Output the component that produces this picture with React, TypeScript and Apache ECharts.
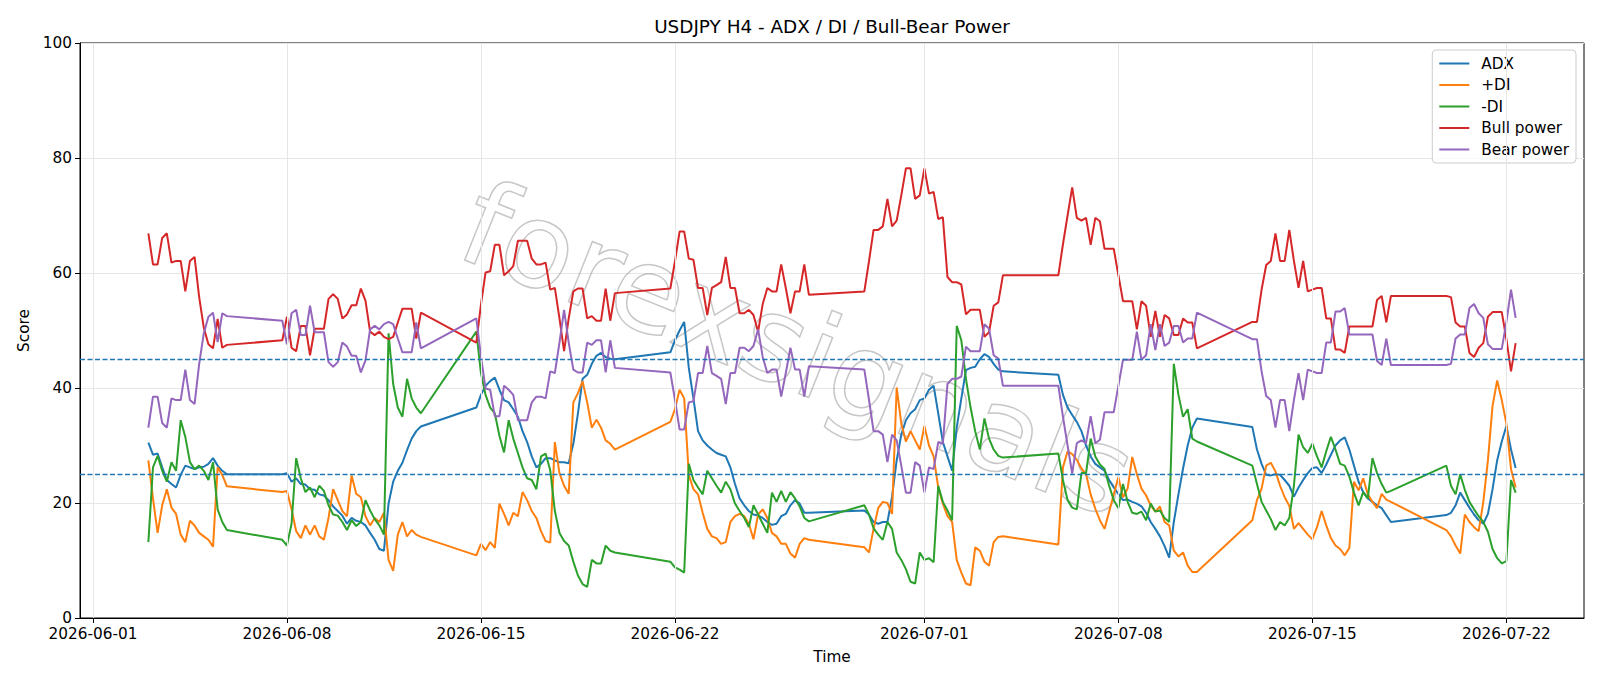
import React, { useEffect, useRef } from "react";
import * as echarts from "echarts";

// Trading sessions of H4 bars (UTC), weekends are skipped
const sessions: [string, string][] = [
  ["2026-06-03T00:00:00Z", "2026-06-05T20:00:00Z"],
  ["2026-06-07T20:00:00Z", "2026-06-12T20:00:00Z"],
  ["2026-06-14T20:00:00Z", "2026-06-19T20:00:00Z"],
  ["2026-06-21T20:00:00Z", "2026-06-26T20:00:00Z"],
  ["2026-06-28T20:00:00Z", "2026-07-03T20:00:00Z"],
  ["2026-07-05T20:00:00Z", "2026-07-10T20:00:00Z"],
  ["2026-07-12T20:00:00Z", "2026-07-17T20:00:00Z"],
  ["2026-07-19T20:00:00Z", "2026-07-22T08:00:00Z"],
];

const adx = [
  30.5, 28.4, 28.6, 26.2, 24.0, 23.3, 22.7, 24.9, 26.5, 26.2, 25.9, 26.2, 26.3, 26.8, 27.8, 26.5, 25.6, 25.0,
  25.0, 25.2, 23.7, 24.3, 23.3, 23.2, 22.4, 22.3, 21.5, 21.3, 20.5, 19.4, 18.6, 17.8, 16.4, 17.4, 16.9, 16.7, 16.1, 14.8, 13.6, 12.0, 11.7, 19.9, 23.7, 25.6, 27.0, 29.2, 31.2, 32.5, 33.3,
  36.6, 38.8, 40.4, 41.2, 41.8, 39.7, 37.9, 37.5, 36.3, 35.0, 32.5, 30.6, 28.1, 26.2, 26.8, 27.8, 27.8, 27.4, 27.1, 27.1, 26.9, 30.3, 35.6, 41.6, 42.3, 44.2, 45.6, 46.1, 45.4, 45.1, 45.0,
  46.2, 48.3, 50.0, 51.5, 43.5, 38.2, 32.5, 30.9, 30.0, 29.3, 28.7, 28.4, 28.1, 26.2, 23.3, 20.8, 19.6, 18.6, 18.0, 17.8, 17.4, 16.7, 16.2, 16.4, 17.7, 18.1, 19.6, 20.5, 19.9, 18.3, 18.3,
  18.7, 18.0, 16.7, 16.4, 16.7, 16.7, 21.1, 27.4, 31.9, 34.4, 35.6, 36.3, 37.9, 38.2, 39.7, 40.4, 35.6, 30.6, 28.1, 25.6, 33.1, 38.2, 43.1, 43.5, 43.7, 45.0, 45.9, 45.4, 44.2, 43.2, 42.9,
  42.3, 38.8, 36.6, 35.3, 34.1, 32.5, 30.0, 28.1, 26.8, 26.2, 25.6, 24.0, 22.7, 21.6, 20.5, 20.6, 20.2, 19.9, 19.4, 18.3, 16.7, 15.5, 14.2, 12.5, 10.5, 16.7, 21.5, 26.0, 30.0, 33.1, 34.7,
  33.2, 29.3, 26.8, 24.9, 24.8, 25.0, 24.9, 24.0, 23.0, 21.1, 22.7, 24.0, 25.2, 26.1, 26.2, 25.2, 26.7, 28.4, 30.0, 30.9, 31.4, 29.3, 26.5, 23.7, 21.9, 20.8, 20.2, 19.6, 19.1, 17.9, 16.7,
  17.9, 18.3, 19.6, 21.8, 20.5, 19.2, 18.0, 17.0, 16.4, 18.1, 22.4, 27.4, 30.7, 33.4, 29.3, 26.1,
];

const plusDI = [
  27.4, 20.8, 14.8, 19.6, 22.4, 19.2, 18.1, 14.5, 13.2, 16.9, 16.1, 14.8, 14.2, 13.6, 12.4, 26.2, 24.9, 22.9,
  21.9, 22.1, 18.9, 15.1, 13.9, 16.1, 14.5, 16.1, 14.2, 13.6, 17.4, 22.4, 20.5, 18.6, 17.7, 24.8, 21.6, 21.0, 17.7, 16.1, 17.4, 16.7, 18.3, 10.1, 8.2, 14.5, 16.7, 14.2, 15.3, 14.5, 14.1,
  10.9, 12.9, 11.8, 13.2, 12.2, 19.9, 18.1, 16.1, 18.3, 17.7, 21.9, 20.5, 18.6, 17.4, 15.1, 13.4, 13.1, 30.6, 25.2, 23.0, 21.6, 37.5, 39.1, 41.2, 37.5, 33.1, 34.5, 33.1, 30.9, 30.3, 29.3,
  34.1, 36.3, 39.7, 38.2, 24.9, 22.4, 21.5, 18.3, 15.5, 14.2, 13.9, 12.9, 13.2, 16.7, 17.7, 18.1, 17.7, 16.4, 13.7, 18.0, 18.9, 17.4, 14.8, 14.2, 12.9, 12.9, 11.2, 10.5, 12.9, 13.9, 13.6,
  12.3, 11.4, 15.5, 19.1, 20.2, 20.0, 18.1, 40.1, 33.8, 30.7, 32.5, 30.9, 29.3, 33.4, 30.0, 28.1, 22.7, 19.9, 17.7, 16.7, 10.1, 7.9, 6.0, 5.7, 12.3, 11.7, 9.8, 9.1, 13.2, 14.1, 14.2,
  12.8, 26.2, 29.0, 28.5, 27.5, 26.0, 25.0, 21.5, 19.0, 17.0, 15.5, 18.5, 21.5, 24.5, 21.0, 22.5, 28.0, 25.0, 22.5, 21.3, 19.6, 18.5, 19.4, 16.7, 16.1, 11.7, 10.7, 11.4, 9.1, 8.0, 8.0,
  17.0, 20.5, 22.5, 26.5, 27.0, 25.5, 23.0, 21.0, 19.5, 15.5, 16.5, 15.5, 14.5, 13.7, 15.8, 18.6, 16.1, 13.9, 12.6, 12.0, 10.9, 12.2, 23.7, 22.2, 24.3, 21.5, 20.2, 19.1, 21.6, 20.6, 20.2,
  15.3, 14.2, 12.6, 11.2, 18.0, 16.7, 15.8, 15.1, 20.2, 27.4, 36.9, 41.3, 37.9, 33.8, 25.9, 22.7,
];

const minusDI = [
  13.2, 26.2, 28.2, 25.6, 23.7, 27.1, 25.6, 34.4, 31.5, 27.1, 25.9, 26.5, 25.6, 24.0, 27.1, 18.9, 16.7, 15.3,
  13.6, 12.6, 16.4, 27.8, 24.3, 21.9, 22.7, 21.0, 23.0, 22.1, 19.6, 18.0, 17.8, 16.7, 15.3, 17.0, 16.0, 16.7, 20.5, 18.7, 17.2, 16.1, 14.5, 49.5, 40.7, 36.6, 35.0, 41.6, 38.2, 36.6, 35.6,
  49.8, 42.6, 38.8, 36.6, 35.6, 31.7, 28.8, 34.4, 31.2, 28.7, 26.2, 24.3, 24.0, 22.4, 28.1, 28.6, 25.7, 18.6, 14.8, 13.4, 12.6, 9.8, 7.4, 5.9, 5.4, 10.1, 9.5, 9.5, 12.6, 11.7, 11.4,
  9.8, 8.8, 8.4, 7.9, 26.8, 24.0, 22.7, 21.5, 25.6, 24.3, 23.0, 21.8, 23.7, 22.4, 19.9, 18.6, 17.4, 15.8, 19.6, 18.0, 16.4, 14.8, 21.8, 20.2, 22.1, 20.2, 21.9, 20.8, 19.4, 17.4, 16.8,
  19.6, 18.0, 15.6, 14.5, 13.6, 16.7, 15.5, 11.4, 10.1, 8.5, 6.3, 6.0, 11.4, 10.1, 10.4, 9.7, 23.0, 20.2, 18.7, 17.0, 50.8, 48.3, 41.6, 36.6, 32.5, 29.3, 34.7, 31.2, 29.3, 28.2, 27.9,
  28.6, 24.0, 20.5, 19.2, 18.9, 25.2, 25.2, 31.2, 28.1, 26.7, 25.9, 23.0, 20.5, 19.1, 23.3, 20.2, 18.3, 18.1, 18.5, 17.0, 19.9, 18.5, 18.7, 17.4, 16.7, 44.2, 38.8, 35.0, 36.3, 31.2, 30.7,
  26.5, 23.3, 20.2, 18.7, 17.2, 15.3, 16.7, 16.1, 17.4, 23.0, 31.9, 29.7, 28.7, 30.3, 28.1, 26.2, 29.0, 31.5, 29.3, 26.8, 26.5, 24.6, 21.8, 19.6, 21.9, 20.8, 27.8, 25.2, 23.3, 21.8, 22.1,
  26.5, 23.0, 21.5, 25.0, 22.3, 20.2, 18.9, 17.7, 16.7, 15.0, 12.0, 10.4, 9.5, 9.9, 24.0, 21.8,
];

const bullPower = [
  66.9, 61.5, 61.5, 66.1, 66.9, 61.8, 62.1, 62.1, 56.8, 62.1, 62.8, 55.8, 50.5, 47.6, 46.9, 52.0, 47.0, 47.5,
  48.3, 52.4, 47.0, 46.4, 50.8, 50.8, 45.7, 50.3, 50.3, 50.3, 55.5, 56.3, 55.5, 52.1, 52.8, 54.4, 54.4, 57.3, 55.2, 49.8, 49.2, 49.8, 48.9, 48.5, 48.9, 51.4, 53.8, 53.8, 53.8, 48.6, 53.1,
  47.9, 54.5, 60.1, 60.3, 64.9, 64.9, 59.6, 60.3, 61.2, 65.6, 65.6, 65.6, 62.5, 61.5, 61.5, 61.8, 57.1, 57.4, 52.1, 46.4, 52.1, 56.8, 57.3, 57.3, 52.1, 52.5, 51.7, 51.7, 57.3, 51.7, 56.5,
  57.3, 62.0, 67.2, 67.2, 62.5, 62.3, 57.4, 57.4, 52.7, 57.4, 57.9, 58.4, 62.8, 57.4, 57.4, 53.0, 53.0, 53.6, 52.7, 49.8, 54.6, 57.4, 56.8, 56.8, 61.5, 57.4, 53.0, 56.8, 56.8, 61.5, 56.2,
  56.8, 62.0, 67.5, 67.5, 68.1, 72.9, 68.1, 69.1, 73.5, 78.2, 78.2, 72.9, 73.5, 78.2, 73.8, 74.1, 69.4, 69.7, 59.3, 58.4, 58.4, 58.0, 52.8, 53.6, 53.6, 53.6, 48.9, 49.7, 54.3, 54.9, 59.6,
  59.6, 65.0, 70.0, 74.9, 69.6, 69.1, 69.6, 64.9, 69.6, 69.0, 64.2, 64.2, 64.2, 59.6, 55.1, 55.1, 55.1, 50.2, 55.1, 54.3, 48.9, 53.4, 48.9, 52.7, 52.1, 49.2, 49.2, 52.1, 51.4, 51.4, 46.9,
  51.5, 51.5, 57.1, 61.4, 62.1, 66.9, 62.1, 62.1, 67.5, 62.1, 57.4, 62.1, 56.8, 57.1, 57.4, 57.4, 52.1, 52.1, 46.7, 46.7, 46.1, 50.7, 50.7, 50.7, 50.7, 50.7, 50.7, 55.3, 56.0, 51.4, 56.0,
  56.0, 55.8, 51.4, 50.7, 50.7, 46.1, 45.4, 47.0, 47.8, 52.4, 53.2, 53.2, 53.2, 48.5, 42.9, 47.8,
];

const bearPower = [
  33.1, 38.5, 38.5, 33.9, 33.1, 38.2, 37.9, 37.9, 43.2, 37.9, 37.2, 44.2, 49.5, 52.4, 53.1, 48.0, 53.0, 52.5,
  51.7, 47.6, 53.0, 53.6, 49.2, 49.2, 54.3, 49.7, 49.7, 49.7, 44.5, 43.7, 44.5, 47.9, 47.2, 45.6, 45.6, 42.7, 44.8, 50.2, 50.8, 50.2, 51.1, 51.5, 51.1, 48.6, 46.2, 46.2, 46.2, 51.4, 46.9,
  52.1, 45.5, 39.9, 39.7, 35.1, 35.1, 40.4, 39.7, 38.8, 34.4, 34.4, 34.4, 37.5, 38.5, 38.5, 38.2, 42.9, 42.6, 47.9, 53.6, 47.9, 43.2, 42.7, 42.7, 47.9, 47.5, 48.3, 48.3, 42.7, 48.3, 43.5,
  42.7, 38.0, 32.8, 32.8, 37.5, 37.7, 42.6, 42.6, 47.3, 42.6, 42.1, 41.6, 37.2, 42.6, 42.6, 47.0, 47.0, 46.4, 47.3, 50.2, 45.4, 42.6, 43.2, 43.2, 38.5, 42.6, 47.0, 43.2, 43.2, 38.5, 43.8,
  43.2, 38.0, 32.5, 32.5, 31.9, 27.1, 31.9, 30.9, 26.5, 21.8, 21.8, 27.1, 26.5, 21.8, 26.2, 25.9, 30.6, 30.3, 40.7, 41.6, 41.6, 42.0, 47.2, 46.4, 46.4, 46.4, 51.1, 50.3, 45.7, 45.1, 40.4,
  40.4, 35.0, 30.0, 25.1, 30.4, 30.9, 30.4, 35.1, 30.4, 31.0, 35.8, 35.8, 35.8, 40.4, 44.9, 44.9, 44.9, 49.8, 44.9, 45.7, 51.1, 46.6, 51.1, 47.3, 47.9, 50.8, 50.8, 47.9, 48.6, 48.6, 53.1,
  48.5, 48.5, 42.9, 38.6, 37.9, 33.1, 37.9, 37.9, 32.5, 37.9, 42.6, 37.9, 43.2, 42.9, 42.6, 42.6, 47.9, 47.9, 53.3, 53.3, 53.9, 49.3, 49.3, 49.3, 49.3, 49.3, 49.3, 44.7, 44.0, 48.6, 44.0,
  44.0, 44.2, 48.6, 49.3, 49.3, 53.9, 54.6, 53.0, 52.2, 47.6, 46.8, 46.8, 46.8, 51.5, 57.1, 52.2,
];

const seriesNames = ["ADX", "+DI", "-DI", "Bull power", "Bear power"];
const seriesColors = ["#1f77b4", "#ff7f0e", "#2ca02c", "#d62728", "#9467bd"];
const tickDates = ["2026-06-01", "2026-06-08", "2026-06-15", "2026-06-22", "2026-07-01", "2026-07-08", "2026-07-15", "2026-07-22"];
const thresholdLevels = [25, 45];
const watermarkText = "forexsignals";

const FONT = "DejaVu Sans";
const FS = 15.3;
const H4_MS = 4 * 3600 * 1000;

function buildBarTimes(): number[] {
  const out: number[] = [];
  for (const [a, b] of sessions) {
    const end = Date.parse(b);
    for (let t = Date.parse(a); t <= end; t += H4_MS) out.push(t);
  }
  return out;
}

function fmtDate(v: number): string {
  const d = new Date(v);
  const mm = String(d.getUTCMonth() + 1).padStart(2, "0");
  const dd = String(d.getUTCDate()).padStart(2, "0");
  return `${d.getUTCFullYear()}-${mm}-${dd}`;
}

export default function App() {
  const ref = useRef<HTMLDivElement>(null);

  useEffect(() => {
    if (!ref.current) return;
    const chart = echarts.init(ref.current, undefined, { renderer: "svg" });

    const times = buildBarTimes();
    const values = [adx, plusDI, minusDI, bullPower, bearPower];
    const t0 = times[0];
    const t1 = times[times.length - 1];
    const pad = (t1 - t0) * 0.05;
    const tickVals = tickDates.map((s) => Date.parse(s + "T00:00:00Z"));

    const lineSeries = seriesNames.map((name, k) => ({
      name,
      type: "line",
      data: times.map((t, i) => [t, values[k][i]]),
      symbol: "none",
      showSymbol: false,
      lineStyle: { width: 2, color: seriesColors[k] },
      itemStyle: { color: seriesColors[k] },
      z: 3,
    }));

    chart.setOption({
      animation: false,
      backgroundColor: "#ffffff",
      title: {
        text: "USDJPY H4 - ADX / DI / Bull-Bear Power",
        left: 832,
        top: 17,
        padding: 0,
        textAlign: "center",
        textStyle: { fontFamily: FONT, fontSize: 18.4, fontWeight: "normal", color: "#000" },
      },
      legend: {
        data: seriesNames,
        orient: "vertical",
        right: 24,
        top: 50,
        itemWidth: 30,
        itemHeight: 14,
        itemGap: 6.5,
        padding: [6, 7, 6, 6],
        borderColor: "#cccccc",
        borderWidth: 1,
        borderRadius: 4,
        backgroundColor: "rgba(255,255,255,0.8)",
        itemStyle: { opacity: 0 },
        textStyle: { fontFamily: FONT, fontSize: FS, color: "#000", padding: [0, 0, 0, 7] },
      },
      grid: {
        left: 80,
        right: 16,
        top: 43,
        bottom: 68,
        show: true,
        borderColor: "#000",
        borderWidth: 1,
        backgroundColor: "transparent",
      },
      xAxis: {
        type: "value",
        min: t0 - pad,
        max: t1 + pad,
        name: "Time",
        nameLocation: "middle",
        nameGap: 31,
        nameTextStyle: { fontFamily: FONT, fontSize: FS, color: "#000" },
        axisLine: { show: true, onZero: false, lineStyle: { color: "#000", width: 1 } },
        axisTick: { show: true, length: 5, lineStyle: { color: "#000" }, customValues: tickVals },
        axisLabel: { customValues: tickVals, formatter: fmtDate, fontFamily: FONT, fontSize: FS, color: "#000", margin: 8 },
        splitLine: { show: false },
      },
      yAxis: {
        type: "value",
        min: 0,
        max: 100,
        interval: 20,
        name: "Score",
        nameLocation: "middle",
        nameRotate: 90,
        nameGap: 47,
        nameTextStyle: { fontFamily: FONT, fontSize: FS, color: "#000" },
        axisLine: { show: true, lineStyle: { color: "#000", width: 1 } },
        axisTick: { show: true, length: 5, lineStyle: { color: "#000" } },
        axisLabel: { fontFamily: FONT, fontSize: FS, color: "#000", margin: 8 },
        splitLine: { show: true, lineStyle: { color: "#e6e6e6", width: 1 } },
      },
      graphic: [
        {
          type: "text",
          x: 798,
          y: 349,
          rotation: -0.38,
          z: 1,
          silent: true,
          style: {
            text: watermarkText,
            fontFamily: FONT,
            fontSize: 118,
            fill: "rgba(0,0,0,0)",
            stroke: "rgba(130,130,130,0.45)",
            lineWidth: 1.5,
            textAlign: "center",
            textVerticalAlign: "middle",
          },
        },
      ],
      series: [
        {
          type: "line",
          data: [],
          silent: true,
          z: 1,
          markLine: {
            silent: true,
            symbol: ["none", "none"],
            label: { show: false },
            lineStyle: { color: "#e6e6e6", type: "solid", width: 1 },
            data: tickVals.map((v) => ({ xAxis: v })),
          },
        },
        ...lineSeries,
        {
          type: "line",
          data: [],
          silent: true,
          z: 4,
          markLine: {
            silent: true,
            symbol: ["none", "none"],
            label: { show: false },
            lineStyle: { color: "#1f77b4", type: [5, 2.5], width: 1.3 },
            data: thresholdLevels.map((v) => ({ yAxis: v })),
          },
        },
      ],
    });

    return () => chart.dispose();
  }, []);

  return (
    <div
      ref={ref}
      style={{ position: "absolute", left: 0, top: 0, width: 1600, height: 686, background: "#fff" }}
    />
  );
}
